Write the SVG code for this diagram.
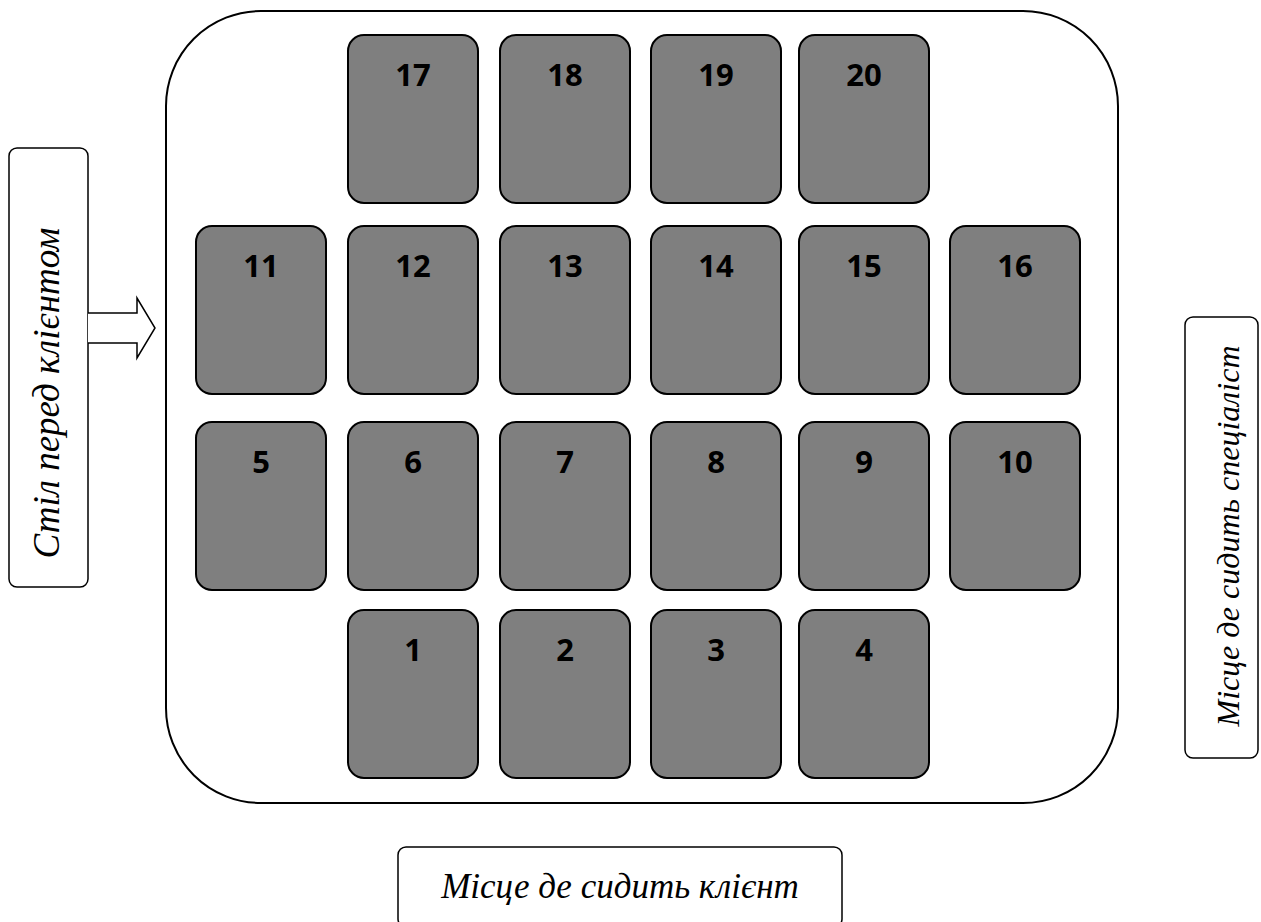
<svg xmlns="http://www.w3.org/2000/svg" width="1261" height="922" viewBox="0 0 1261 922">
<style>
.tile{fill:#7f7f7f;stroke:#000;stroke-width:2}
.num{font-family:"Open Sans","Liberation Sans",sans-serif;font-weight:bold;font-size:31px;fill:#000;text-anchor:middle}
.box{fill:#fff;stroke:#000;stroke-width:1.5}
.lbl{font-family:'Liberation Serif','DejaVu Serif',serif;font-style:italic;font-size:34px;fill:#000;text-anchor:middle}
</style>
<rect width="1261" height="922" fill="#fff"/>
<g id="room"><rect x="166" y="11" width="952" height="792" rx="95" ry="95" fill="#fff" stroke="#000" stroke-width="2"/></g>
<g id="t17"><rect class="tile" x="348" y="35" width="130" height="168" rx="16"/><text class="num" x="413" y="86">17</text></g>
<g id="t18"><rect class="tile" x="500" y="35" width="130" height="168" rx="16"/><text class="num" x="565" y="86">18</text></g>
<g id="t19"><rect class="tile" x="651" y="35" width="130" height="168" rx="16"/><text class="num" x="716" y="86">19</text></g>
<g id="t20"><rect class="tile" x="799" y="35" width="130" height="168" rx="16"/><text class="num" x="864" y="86">20</text></g>
<g id="t11"><rect class="tile" x="196" y="226" width="130" height="168" rx="16"/><text class="num" x="261" y="277">11</text></g>
<g id="t12"><rect class="tile" x="348" y="226" width="130" height="168" rx="16"/><text class="num" x="413" y="277">12</text></g>
<g id="t13"><rect class="tile" x="500" y="226" width="130" height="168" rx="16"/><text class="num" x="565" y="277">13</text></g>
<g id="t14"><rect class="tile" x="651" y="226" width="130" height="168" rx="16"/><text class="num" x="716" y="277">14</text></g>
<g id="t15"><rect class="tile" x="799" y="226" width="130" height="168" rx="16"/><text class="num" x="864" y="277">15</text></g>
<g id="t16"><rect class="tile" x="950" y="226" width="130" height="168" rx="16"/><text class="num" x="1015" y="277">16</text></g>
<g id="t5"><rect class="tile" x="196" y="422" width="130" height="168" rx="16"/><text class="num" x="261" y="473">5</text></g>
<g id="t6"><rect class="tile" x="348" y="422" width="130" height="168" rx="16"/><text class="num" x="413" y="473">6</text></g>
<g id="t7"><rect class="tile" x="500" y="422" width="130" height="168" rx="16"/><text class="num" x="565" y="473">7</text></g>
<g id="t8"><rect class="tile" x="651" y="422" width="130" height="168" rx="16"/><text class="num" x="716" y="473">8</text></g>
<g id="t9"><rect class="tile" x="799" y="422" width="130" height="168" rx="16"/><text class="num" x="864" y="473">9</text></g>
<g id="t10"><rect class="tile" x="950" y="422" width="130" height="168" rx="16"/><text class="num" x="1015" y="473">10</text></g>
<g id="t1"><rect class="tile" x="348" y="610" width="130" height="168" rx="16"/><text class="num" x="413" y="661">1</text></g>
<g id="t2"><rect class="tile" x="500" y="610" width="130" height="168" rx="16"/><text class="num" x="565" y="661">2</text></g>
<g id="t3"><rect class="tile" x="651" y="610" width="130" height="168" rx="16"/><text class="num" x="716" y="661">3</text></g>
<g id="t4"><rect class="tile" x="799" y="610" width="130" height="168" rx="16"/><text class="num" x="864" y="661">4</text></g>
<g id="table"><rect class="box" x="9" y="148" width="79" height="439" rx="8"/><text class="lbl" style="font-size:37px" transform="translate(59,393) rotate(-90)" x="0" y="0">Стіл перед клієнтом</text></g>
<g id="specialist"><rect class="box" x="1185" y="317" width="73" height="441" rx="8"/><text class="lbl" style="font-size:32px" transform="translate(1239,536) rotate(-90)" x="0" y="0">Місце де сидить спеціаліст</text></g>
<g id="client"><rect class="box" x="398" y="847" width="444" height="80" rx="8"/><text class="lbl" style="font-size:35px" x="620" y="898">Місце де сидить клієнт</text></g>
<g id="connectors"><path d="M88,313 L137,313 L137,298 L155,328 L137,358 L137,343 L88,343" fill="#fff" stroke="#000" stroke-width="1.5"/></g>
</svg>
